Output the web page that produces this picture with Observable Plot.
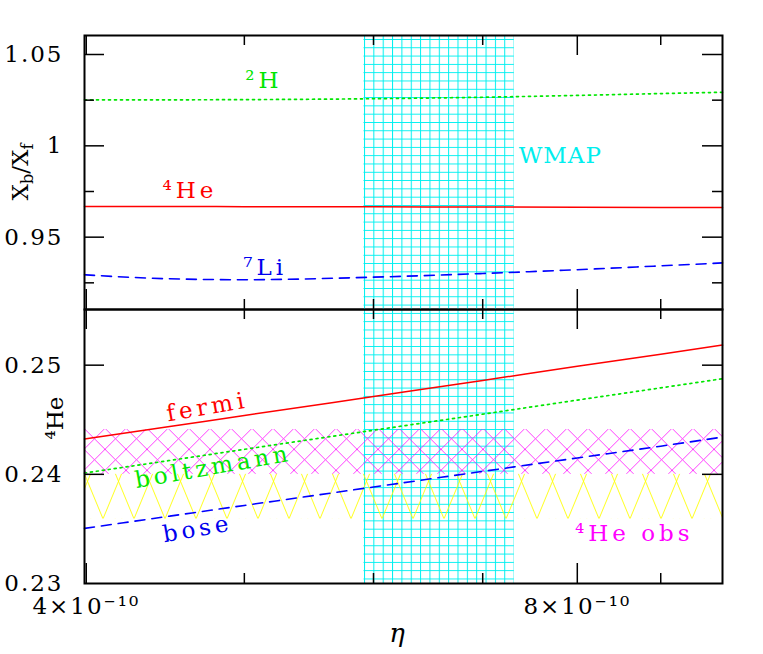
<!DOCTYPE html>
<html><head><meta charset="utf-8">
<script src="https://cdn.jsdelivr.net/npm/d3@7"></script>
<script src="https://cdn.jsdelivr.net/npm/@observablehq/plot@0.6"></script>
<style>
body{margin:0;background:#fff;}
#wrap{position:relative;width:763px;height:654px;overflow:hidden;font-family:"DejaVu Serif";}
#wrap svg{position:absolute;left:0;}
#wrap svg text{letter-spacing:2px;}
#wrap svg g.lbl text{letter-spacing:4px;}
#wrap svg g.lblcap text{letter-spacing:1px;}
.ttl{position:absolute;white-space:nowrap;transform:translate(-50%,-50%);font-family:"DejaVu Serif";color:#000;}
.ttl sub{font-size:70%;vertical-align:-0.3em;}
</style></head><body>
<div id="wrap"></div>
<script>
// ---- data ----
const etaGrid   = [3.99e-10, 4.5e-10, 5e-10, 6e-10, 7e-10, 8e-10, 9e-10, 9.82e-10];
// top panel: X_b / X_f
const ratioH2   = [1.0252, 1.0252, 1.0253, 1.0258, 1.0266, 1.0276, 1.0286, 1.0293];
const ratioHe4  = [0.9668, 0.9668, 0.9667, 0.9666, 0.9665, 0.9664, 0.9663, 0.9662];
const ratioLi7  = [0.9294, 0.9272, 0.9267, 0.9281, 0.9301, 0.9322, 0.9343, 0.9359];
// bottom panel: 4He mass fraction
const yFermi    = [0.24323, 0.24438, 0.24539, 0.24713, 0.24860, 0.24990, 0.25101, 0.25184];
const yBoltz    = [0.24012, 0.24127, 0.24229, 0.24404, 0.24551, 0.24680, 0.24792, 0.24876];
const yBose     = [0.23505, 0.23617, 0.23715, 0.23884, 0.24027, 0.24150, 0.24258, 0.24341];
// bands
const wmapRange = [5.92e-10, 7.32e-10];
const heObsMain = [0.2400, 0.2441];
const heObsWide = [0.2359, 0.2400];
// axes
const xDomain   = [3.99e-10, 9.82e-10];
const yTopDomain = [0.9104, 1.0604];
const yBotDomain = [0.23, 0.2551];
const xMajor = [4e-10, 8e-10];
const xMinor = [5e-10, 6e-10, 7e-10, 9e-10];
const xTickLabels = ["4×10⁻¹⁰", "8×10⁻¹⁰"];
const topMajor = [0.95, 1, 1.05];
const topMinor = [0.925, 0.975, 1.025];
const topTickLabels = ["0.95", "1", "1.05"];
const botTicks = [0.24, 0.25];
const botLabelVals = [0.23, 0.24, 0.25];
const botTickLabels = ["0.23", "0.24", "0.25"];
// annotations
const topLabels = [
  {text: "²H",  x: 5.14e-10, y: 1.0358, color: "#00e600"},
  {text: "⁴He", x: 4.63e-10, y: 0.9755, color: "#ff0000"},
  {text: "⁷Li", x: 5.15e-10, y: 0.9334, color: "#0000ee"},
  {text: "WMAP", x: 7.81e-10, y: 0.9947, color: "#00eeee", cap: true}
];
const botLabels = [
  {text: "fermi", x: 4.745e-10, y: 0.24616, color: "#ff0000", rotate: -10},
  {text: "boltzmann", x: 4.785e-10, y: 0.24067, color: "#00e600", rotate: -10},
  {text: "bose", x: 4.68e-10, y: 0.23499, color: "#0000ee", rotate: -10},
  {text: "⁴He obs", x: 8.67e-10, y: 0.23453, color: "#ff00ff", rotate: 0}
];

const plotW = 638, plotH = 274;
const rows = arr => etaGrid.map((e, i) => ({e, v: arr[i]}));

function frameTicks(yMaj, yMin) {
  const m = [];
  const tk = {stroke: "black", strokeWidth: 1.5};
  m.push(Plot.tickY(yMaj, {y: d => d, insetRight: plotW - 20, ...tk}));
  m.push(Plot.tickY(yMaj, {y: d => d, insetLeft: plotW - 20, ...tk}));
  if (yMin.length) {
    m.push(Plot.tickY(yMin, {y: d => d, insetRight: plotW - 10, ...tk}));
    m.push(Plot.tickY(yMin, {y: d => d, insetLeft: plotW - 10, ...tk}));
  }
  m.push(Plot.tickX(xMajor, {x: d => d, insetBottom: plotH - 20, ...tk}));
  m.push(Plot.tickX(xMinor, {x: d => d, insetBottom: plotH - 10, ...tk}));
  m.push(Plot.tickX(xMajor, {x: d => d, insetTop: plotH - 20, ...tk}));
  m.push(Plot.tickX(xMinor, {x: d => d, insetTop: plotH - 10, ...tk}));
  return m;
}

function labelMarks(list) {
  return list.map(l => Plot.text([l], {x: "x", y: "y", text: "text", fill: l.color,
    rotate: l.rotate || 0, fontSize: 23, fontFamily: "DejaVu Serif", className: l.cap ? "lblcap" : "lbl"}));
}

const common = {
  width: 763, marginLeft: 84, marginRight: 41,
  x: {type: "log", domain: xDomain, axis: null},
  style: {background: "transparent", fontFamily: "DejaVu Serif", fontSize: "23px", overflow: "visible"}
};

const topPlot = Plot.plot({
  ...common,
  height: 311, marginTop: 35, marginBottom: 2,
  y: {domain: yTopDomain, axis: null},
  marks: [
    Plot.rect([{a: wmapRange[0], b: wmapRange[1]}], {x1: "a", x2: "b", y1: () => yTopDomain[0], y2: () => yTopDomain[1], fill: "url(#wmapGridT)"}),
    Plot.line(rows(ratioH2), {x: "e", y: "v", stroke: "#00e600", strokeWidth: 1.7, strokeDasharray: "2,4", curve: "monotone-x"}),
    Plot.line(rows(ratioHe4), {x: "e", y: "v", stroke: "#ff0000", strokeWidth: 1.5, curve: "monotone-x"}),
    Plot.line(rows(ratioLi7), {x: "e", y: "v", stroke: "#0000ff", strokeWidth: 1.6, strokeDasharray: "10,7", curve: "monotone-x"}),
    ...labelMarks(topLabels),
    Plot.text(topMajor, {y: d => d, text: (d, i) => topTickLabels[i], frameAnchor: "left", textAnchor: "end", dx: -21, fontSize: 23}),
    ...frameTicks(topMajor, topMinor),
    Plot.frame({stroke: "black", strokeWidth: 2})
  ]
});

const botPlot = Plot.plot({
  ...common,
  height: 347, marginTop: 2, marginBottom: 71,
  y: {domain: yBotDomain, axis: null},
  marks: [
    Plot.rect([{a: wmapRange[0], b: wmapRange[1]}], {x1: "a", x2: "b", y1: () => yBotDomain[0], y2: () => yBotDomain[1], fill: "url(#wmapGridB)"}),
    Plot.rect([{a: heObsWide[0], b: heObsWide[1]}], {x1: () => xDomain[0], x2: () => xDomain[1], y1: "a", y2: "b", fill: "url(#wideHatchB)"}),
    Plot.rect([{a: heObsMain[0], b: heObsMain[1]}], {x1: () => xDomain[0], x2: () => xDomain[1], y1: "a", y2: "b", fill: "url(#obsHatchB)"}),
    Plot.line(rows(yFermi), {x: "e", y: "v", stroke: "#ff0000", strokeWidth: 1.5, curve: "monotone-x"}),
    Plot.line(rows(yBoltz), {x: "e", y: "v", stroke: "#00e600", strokeWidth: 1.7, strokeDasharray: "2,4", curve: "monotone-x"}),
    Plot.line(rows(yBose), {x: "e", y: "v", stroke: "#0000ff", strokeWidth: 1.6, strokeDasharray: "10,7", curve: "monotone-x"}),
    ...labelMarks(botLabels),
    Plot.text(botLabelVals, {y: d => d, text: (d, i) => botTickLabels[i], frameAnchor: "left", textAnchor: "end", dx: -21, fontSize: 23}),
    Plot.text(xMajor, {x: d => d, text: (d, i) => xTickLabels[i], frameAnchor: "bottom", lineAnchor: "top", dy: 14, fontSize: 23}),
    ...frameTicks(botTicks, []),
    Plot.frame({stroke: "black", strokeWidth: 2})
  ]
});

function addDefs(svg, s, offY) {
  const ns = "http://www.w3.org/2000/svg";
  const defs = document.createElementNS(ns, "defs");
  defs.innerHTML =
    `<pattern id="wmapGrid${s}" patternUnits="userSpaceOnUse" width="9.35" height="8.3" patternTransform="translate(364,${39 - offY})">` +
    `<path d="M0.5,0 V8.3 M0,0.5 H9.35" stroke="#00f0f0" stroke-width="1" fill="none"/></pattern>` +
    `<pattern id="obsHatch${s}" patternUnits="userSpaceOnUse" width="21" height="21" patternTransform="translate(84,${428.3 - offY})">` +
    `<path d="M-2,-2 L23,23 M23,-2 L-2,23" stroke="#ff00ff" stroke-width="0.75" fill="none"/></pattern>` +
    `<pattern id="wideHatch${s}" patternUnits="userSpaceOnUse" width="31" height="46" patternTransform="translate(103,${472.8 - offY})">` +
    `<path d="M0,46 L19,0 M0,46 L-19,0 M31,46 L12,0 M31,46 L50,0" stroke="#ffff00" stroke-width="0.9" fill="none"/></pattern>`;
  svg.insertBefore(defs, svg.firstChild);
}
addDefs(topPlot, "T", 0);
addDefs(botPlot, "B", 307);

const wrap = document.getElementById("wrap");
topPlot.style.top = "0px";
botPlot.style.top = "307px";
wrap.appendChild(botPlot);
wrap.appendChild(topPlot);

function title(html, x, y, rot, size, italic) {
  const d = document.createElement("div");
  d.className = "ttl";
  d.innerHTML = html;
  d.style.left = x + "px";
  d.style.top = y + "px";
  d.style.fontSize = size + "px";
  if (italic) d.style.fontStyle = "italic";
  d.style.transform = `translate(-50%,-50%) rotate(${rot}deg)`;
  wrap.appendChild(d);
}
title("X<sub>b</sub>/X<sub>f</sub>", 22, 172, -90, 23, false);
title("⁴He", 55, 418, -90, 23, false);
title("η", 397, 633, 0, 26, true);
</script>
</body></html>
